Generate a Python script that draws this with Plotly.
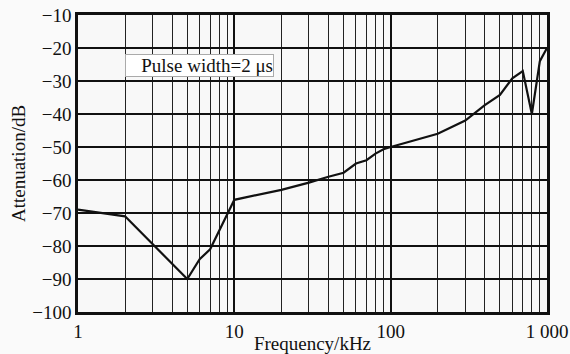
import plotly.graph_objects as go

# Attenuation versus frequency for a 2 µs pulse
freq_khz = [1, 2, 5, 6, 7, 10, 20, 30, 40, 50, 60, 70, 80, 90, 100,
            200, 300, 400, 500, 600, 700, 800, 900, 1000]
atten_db = [-69, -71, -90, -84, -81, -66, -63, -60.8, -59, -57.8, -55, -54, -52, -50.7, -50,
            -46, -42, -37.3, -34.2, -29.2, -27, -40, -24, -20]

x_tick_vals = [1, 10, 100, 1000]
x_tick_text = ["1", "10", "100", "1 000"]
y_tick_vals = [-100, -90, -80, -70, -60, -50, -40, -30, -20, -10]

serif = "Liberation Serif, Times New Roman, serif"
ink = "#111111"

fig = go.Figure()
fig.add_trace(go.Scatter(
    x=freq_khz, y=atten_db, mode="lines",
    line=dict(color=ink, width=2.2),
    showlegend=False, hoverinfo="skip",
))

fig.add_annotation(
    x=0.1, y=0.83, xref="paper", yref="paper", xanchor="left", yanchor="middle",
    text="Pulse width=2 μs", showarrow=False, width=147, align="right",
    font=dict(family=serif, size=19, color=ink),
    bgcolor="#ffffff", bordercolor="#aaaaaa", borderwidth=1, borderpad=0,
)

fig.update_xaxes(
    type="log", range=[0, 3], automargin=False,
    tickvals=x_tick_vals, ticktext=x_tick_text,
    ticks="", showgrid=True, gridcolor=ink, gridwidth=2.2,
    minor=dict(dtick="D1", showgrid=True, gridcolor="#222222", gridwidth=1.4, ticks=""),
    showline=True, linecolor=ink, linewidth=2.5, mirror=True,
    tickfont=dict(family=serif, size=19, color=ink),
    title=dict(text="Frequency/kHz", font=dict(family=serif, size=19, color=ink), standoff=0),
    zeroline=False,
)
fig.update_yaxes(
    range=[-100, -10], tickvals=y_tick_vals, automargin=False,
    ticks="", showgrid=True, gridcolor=ink, gridwidth=2,
    showline=True, linecolor=ink, linewidth=2.5, mirror=True,
    tickfont=dict(family=serif, size=19, color=ink),
    title=dict(text="Attenuation/dB", font=dict(family=serif, size=19, color=ink), standoff=2),
    zeroline=False,
)

fig.update_layout(
    width=570, height=354,
    margin=dict(l=78, r=23, t=15, b=42),
    paper_bgcolor="#fafafa", plot_bgcolor="#f8f8f8",
)

fig.write_html("out.html")
